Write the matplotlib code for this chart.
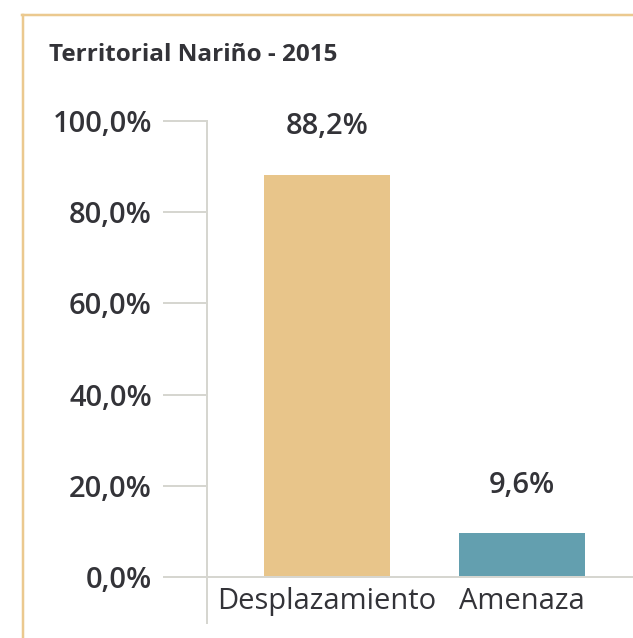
import matplotlib
matplotlib.use("Agg")
import matplotlib.pyplot as plt
from matplotlib.lines import Line2D

# Data
categories = ["Desplazamiento", "Amenaza"]
values = [88.2, 9.6]
value_labels = ["88,2%", "9,6%"]
yticks = [0, 20, 40, 60, 80, 100]
ytick_labels = ["0,0%", "20,0%", "40,0%", "60,0%", "80,0%", "100,0%"]
title = "Territorial Nariño - 2015"

bar_colors = ["#E8C58A", "#639FAF"]
text_color = "#333338"
axis_color = "#D6D6D0"
frame_color = "#EBC98F"

plt.rcParams["font.family"] = ["Open Sans", "DejaVu Sans"]

W, H, DPI = 633, 638, 100
fig = plt.figure(figsize=(W / DPI, H / DPI), dpi=DPI)
px = 72.0 / DPI  # points per pixel

# axes placement in pixels
ax_left, ax_right = 207, 633
ax_bottom_y, ax_top_y = 577, 121  # from the top of the image
ax = fig.add_axes([ax_left / W, (H - ax_bottom_y) / H,
                   (ax_right - ax_left) / W, (ax_bottom_y - ax_top_y) / H])

x = list(range(len(categories)))
unit = 195.0
ax.set_xlim(-120 / unit, 1 + 111 / unit)
ax.set_ylim(0, 100)

ax.bar(x, values, width=126 / unit, color=bar_colors, zorder=2)

for xi, v, lab in zip(x, values, value_labels):
    ax.annotate(lab, (xi, v), xytext=(0, 48 * px), textcoords="offset points",
                ha="center", va="center", fontsize=21, fontweight="semibold",
                color=text_color)

for s in ["top", "right", "left"]:
    ax.spines[s].set_visible(False)
ax.spines["bottom"].set_color(axis_color)
ax.spines["bottom"].set_linewidth(2 * px)

ax.set_yticks(yticks)
ax.set_yticklabels(ytick_labels, fontweight="semibold")
ax.tick_params(axis="y", length=44 * px, width=2 * px, color=axis_color,
               pad=11 * px, labelsize=21, labelcolor=text_color)
ax.set_xticks(x)
ax.set_xticklabels(categories)
ax.tick_params(axis="x", length=0, pad=10 * px, labelsize=21, labelcolor=text_color)

# vertical axis line extending below the baseline
ax.add_line(Line2D([0, 0], [-46 / 456, 1.0], transform=ax.transAxes,
                   color=axis_color, linewidth=2 * px, clip_on=False, zorder=3))

# frame lines along the top and left edges
fig.add_artist(Line2D([22 / W, 1.0], [1 - 15 / H, 1 - 15 / H], transform=fig.transFigure,
                      color=frame_color, linewidth=2.5 * px))
fig.add_artist(Line2D([23 / W, 23 / W], [0, 1 - 15 / H], transform=fig.transFigure,
                      color=frame_color, linewidth=2.5 * px))

fig.text(49 / W, 1 - 55 / H, title, ha="left", va="center", fontsize=17.5,
         fontweight="bold", color=text_color)

fig.savefig("out.png", dpi=DPI)
